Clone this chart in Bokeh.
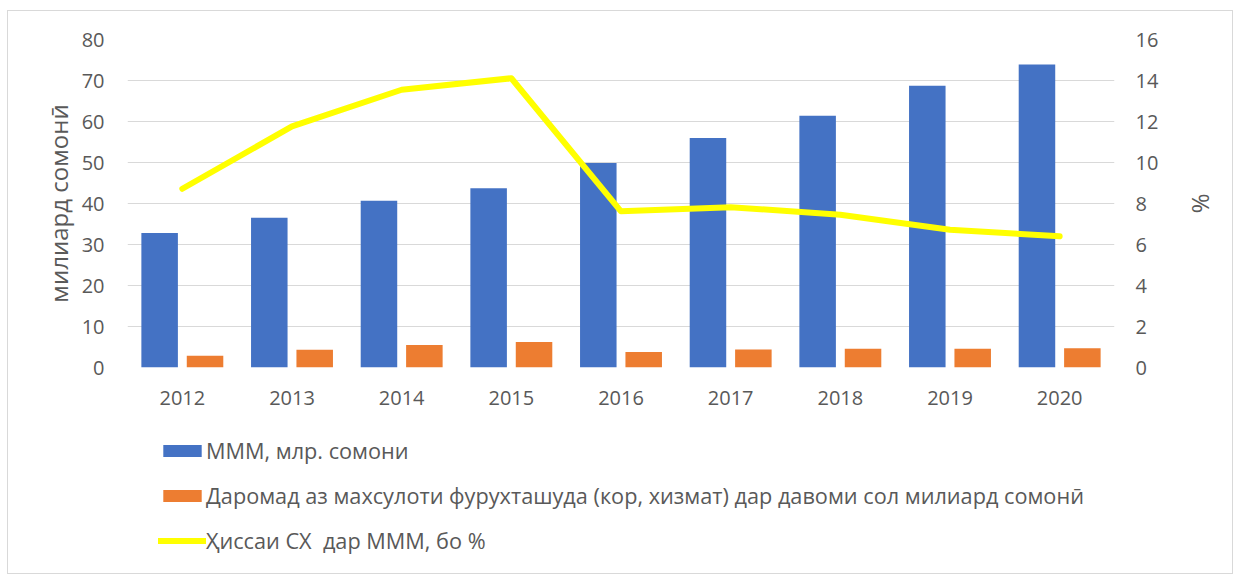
from bokeh.plotting import figure
from bokeh.models import (ColumnDataSource, FactorRange, LinearAxis, Range1d,
                          Legend, LegendItem, SingleIntervalTicker)
from bokeh.layouts import column
from bokeh.transform import dodge
from bokeh.embed import file_html
from bokeh.resources import INLINE

years = ["2012", "2013", "2014", "2015", "2016", "2017", "2018", "2019", "2020"]
gdp = [32.8, 36.5, 40.7, 43.7, 49.9, 56.0, 61.4, 68.7, 73.9]
income = [2.85, 4.3, 5.5, 6.2, 3.8, 4.4, 4.55, 4.6, 4.7]
share = [8.72, 11.76, 13.55, 14.11, 7.62, 7.82, 7.45, 6.72, 6.4]

left_ticks_interval = 10
right_ticks_interval = 2

name_gdp = "МММ, млр. сомони"
name_income = "Даромад аз махсулоти фурухташуда (кор, хизмат) дар давоми сол милиард сомонӣ"
name_share = "Ҳиссаи СХ  дар МММ, бо %"
left_title = "милиард сомонӣ"
right_title = "%"

FONT = "Open Sans"
GREY = "#595959"
BLUE = "#4472C4"
ORANGE = "#ED7D31"
YELLOW = "#FFFF00"

src = ColumnDataSource(dict(year=years, gdp=gdp, income=income, share=share))

p = figure(x_range=FactorRange(factors=years), y_range=Range1d(0, 80),
           width=1224, height=409, output_backend="svg", toolbar_location=None,
           min_border_left=119, min_border_right=118, min_border_top=28,
           min_border_bottom=53)
p.extra_y_ranges = {"pct": Range1d(0, 16)}
p.outline_line_color = None
p.background_fill_color = "white"
p.border_fill_color = "white"

p.vbar(x=dodge("year", -0.207, range=p.x_range), top="gdp", width=0.333,
       source=src, fill_color=BLUE, line_color=None)
p.vbar(x=dodge("year", 0.207, range=p.x_range), top="income", width=0.333,
       source=src, fill_color=ORANGE, line_color=None)
p.line(x="year", y="share", source=src, y_range_name="pct",
       line_color=YELLOW, line_width=6, line_join="round", line_cap="round")

p.xgrid.grid_line_color = None
p.ygrid.grid_line_color = "#D9D9D9"
p.ygrid.grid_line_width = 1

p.yaxis.ticker = SingleIntervalTicker(interval=left_ticks_interval)
p.yaxis.axis_label = left_title

right = LinearAxis(y_range_name="pct", ticker=SingleIntervalTicker(interval=right_ticks_interval),
                   axis_label=right_title)
p.add_layout(right, "right")

for ax in [p.xaxis[0], p.yaxis[0], right]:
    ax.axis_line_color = None
    ax.major_tick_line_color = None
    ax.minor_tick_line_color = None
    ax.major_tick_out = 0
    ax.minor_tick_out = 0
    ax.major_label_text_color = GREY
    ax.major_label_text_font = FONT
    ax.major_label_text_font_size = "20px"
    ax.axis_label_text_color = GREY
    ax.axis_label_text_font = FONT
    ax.axis_label_text_font_size = "23px"
    ax.axis_label_text_font_style = "normal"

p.yaxis.axis_label_text_font_size = "24px"
p.xaxis.major_label_standoff = 23
p.yaxis.major_label_standoff = 23
p.yaxis.axis_label_standoff = 4
right.major_label_standoff = 21
right.axis_label_standoff = 24

# legend panel below the chart (swatch-only renderers, nothing visible in the panel)
lp = figure(width=1224, height=153, output_backend="svg", toolbar_location=None,
            x_range=Range1d(0, 1), y_range=Range1d(0, 1), min_border=0)
lp.axis.visible = False
lp.grid.visible = False
lp.outline_line_color = None
lp.background_fill_color = "white"
lp.border_fill_color = "white"
nan = float("nan")
swatch = ColumnDataSource(dict(x=[nan], y=[nan]))
r1 = lp.vbar(x="x", top="y", width=0.1, source=swatch, fill_color=BLUE, line_color=None)
r2 = lp.vbar(x="x", top="y", width=0.1, source=swatch, fill_color=ORANGE, line_color=None)
r3 = lp.line(x="x", y="y", source=swatch, line_color=YELLOW, line_width=6, line_cap="round")

legend = Legend(items=[LegendItem(label=name_gdp, renderers=[r1]),
                       LegendItem(label=name_income, renderers=[r2]),
                       LegendItem(label=name_share, renderers=[r3])],
                location=(31, 18), orientation="vertical",
                padding=0, margin=0, spacing=16, border_line_color=None,
                background_fill_alpha=0,
                glyph_width=48, glyph_height=15, label_standoff=0,
                label_text_font=FONT, label_text_font_size="21.7px",
                label_text_color=GREY, label_height=27)
lp.add_layout(legend, "center")

layout = column(p, lp, spacing=0, margin=(10, 0, 0, 7),
                styles={"border": "1px solid #D9D9D9"})

open("out.html", "w").write(file_html(layout, INLINE))
